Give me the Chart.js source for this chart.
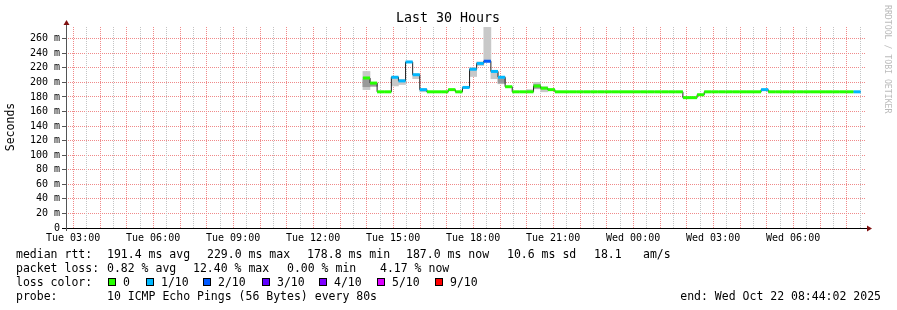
<!DOCTYPE html>
<html>
<head>
<meta charset="utf-8">
<script src="https://cdn.jsdelivr.net/npm/chart.js@4.4.0/dist/chart.umd.min.js"></script>
<style>
  html, body { margin: 0; padding: 0; background: #fff; }
  #wrap { width: 897px; height: 310px; }
</style>
</head>
<body>
<div id="wrap"><canvas id="graph" width="897" height="310"></canvas></div>
<script>
// hours since Tue 00:00
const rangeStart = 2 + 44 / 60;
const rangeEnd = 32 + 44 / 60;
const firstSample = 13 + 52 / 60;
const stepHours = 16 / 60;

// median rtt per 16 min sample, in ms
const median = [
  206, 199, 187, 187, 207, 202, 228, 210.5, 190, 187,
  187, 187, 190, 187, 193, 218, 226, 229, 215, 207,
  194, 187, 187, 187, 195, 192, 190, 187, 187, 187,
  187, 187, 187, 187, 187, 187, 187, 187, 187, 187,
  187, 187, 187, 187, 187, 179, 179, 183, 187, 187,
  187, 187, 187, 187, 187, 187, 190, 187, 187, 187,
  187, 187, 187, 187, 187, 187, 187, 187, 187, 187
];
// index into lossColors
const lossLevel = [
  0, 0, 0, 0, 1, 1, 1, 1, 1, 0,
  0, 0, 0, 0, 1, 1, 1, 2, 1, 1,
  0, 0, 0, 0, 0, 0, 0, 0, 0, 0,
  0, 0, 0, 0, 0, 0, 0, 0, 0, 0,
  0, 0, 0, 0, 0, 0, 0, 0, 0, 0,
  0, 0, 0, 0, 0, 0, 1, 0, 0, 0,
  0, 0, 0, 0, 0, 0, 0, 0, 0, 1
];
// smoke (spread of the pings), null where hidden under the median
const smokeLow = [
  190, 194, null, null, 195, 197, null, 205, 187, null,
  null, null, null, null, null, 208, 223, 228, 205, 198,
  null, null, null, 187, 191, 187
];
const smokeHigh = [
  215, 200, null, null, 208, 204, null, 211, 191, null,
  null, null, null, null, null, 220, 228, 275.5, 215, 208,
  null, null, null, 190, 200, 194
];
const smokeCoreLow = [194, 195, null, null, null, null, null, null, null, null,
  null, null, null, null, null, null, null, null, null, 199,
  null, null, null, null, 192, null];
const smokeCoreHigh = [204, 198, null, null, null, null, null, null, null, null,
  null, null, null, null, null, null, null, null, null, 205,
  null, null, null, null, 197, null];

const lossColors = ['#26ff00', '#00b8ff', '#0059ff', '#5e00ff', '#7e00ff', '#dd00ff', '#ff0000'];
const lossLabels = ['0', '1/10', '2/10', '3/10', '4/10', '5/10', '9/10'];

const yMax = 276;
const xTicks = [];
for (let h = 3; h < rangeEnd; h += 0.5) xTicks.push(h);
const yTicks = [];
for (let v = 0; v <= 270; v += 10) yTicks.push(v);

const mono = '"DejaVu Sans Mono", "Liberation Mono", monospace';
const majorGrid = '#f08a8a';
const minorGrid = '#c4c4c4';

function t0(i) { return firstSample + i * stepHours; }

const blackPoints = median.map((v, i) => ({ x: t0(i), y: v }));
blackPoints.push({ x: t0(median.length), y: median[median.length - 1] });

const colorPoints = [];
median.forEach((v, i) => {
  colorPoints.push({ x: t0(i), y: v }, { x: t0(i + 1), y: v }, { x: t0(i + 1), y: null });
});

function bars(lo, hi) {
  return median.map((_, i) => ({
    x: t0(i) + stepHours / 2,
    y: lo[i] == null || hi[i] == null ? null : [lo[i], hi[i]]
  }));
}

function timeLabel(h) {
  const day = h < 24 ? 'Tue' : 'Wed';
  const hh = String(Math.floor(h % 24)).padStart(2, '0');
  return day + ' ' + hh + ':00';
}

// vertical dotted grid, hourly red and half-hourly grey, one pixel dots
const timeGrid = {
  id: 'timeGrid',
  beforeDatasetsDraw(chart) {
    const ctx = chart.ctx;
    const a = chart.chartArea;
    const xs = chart.scales.x;
    ctx.save();
    xTicks.forEach(v => {
      const px = Math.round(xs.getPixelForValue(v));
      ctx.fillStyle = v % 1 === 0 ? majorGrid : minorGrid;
      for (let y = Math.round(a.top); y < a.bottom; y += 2) ctx.fillRect(px, y, 1, 1);
    });
    ctx.restore();
  }
};

const decor = {
  id: 'decor',
  afterDraw(chart) {
    const ctx = chart.ctx;
    const a = chart.chartArea;
    ctx.save();
    // axes
    ctx.lineWidth = 1;
    ctx.strokeStyle = '#000';
    ctx.beginPath();
    ctx.moveTo(62, a.bottom + 0.5);
    ctx.lineTo(a.right + 2, a.bottom + 0.5);
    ctx.stroke();
    ctx.strokeStyle = '#555';
    ctx.beginPath();
    ctx.moveTo(a.left + 0.5, a.bottom + 3);
    ctx.lineTo(a.left + 0.5, a.top - 4);
    ctx.stroke();
    ctx.fillStyle = '#7f1010';
    ctx.beginPath();
    ctx.moveTo(a.right + 6, a.bottom + 0.5);
    ctx.lineTo(a.right + 1, a.bottom - 2.5);
    ctx.lineTo(a.right + 1, a.bottom + 3.5);
    ctx.fill();
    ctx.beginPath();
    ctx.moveTo(a.left + 0.5, a.top - 7);
    ctx.lineTo(a.left - 2.5, a.top - 2);
    ctx.lineTo(a.left + 3.5, a.top - 2);
    ctx.fill();

    // title and axis label
    ctx.fillStyle = '#000';
    ctx.font = '13.3px ' + mono;
    ctx.textAlign = 'center';
    ctx.textBaseline = 'middle';
    ctx.fillText('Last 30 Hours', 448, 19);
    ctx.font = '11.5px ' + mono;
    ctx.save();
    ctx.translate(11, 127);
    ctx.rotate(-Math.PI / 2);
    ctx.fillText('Seconds', 0, 0);
    ctx.restore();

    // watermark
    ctx.save();
    ctx.fillStyle = '#bbb';
    ctx.font = '8.2px ' + mono;
    ctx.translate(887, 5);
    ctx.rotate(Math.PI / 2);
    ctx.textAlign = 'left';
    ctx.fillText('RRDTOOL / TOBI OETIKER', 0, 0);
    ctx.restore();

    // legend
    ctx.font = '11.5px ' + mono;
    ctx.textAlign = 'left';
    ctx.textBaseline = 'alphabetic';
    const put = (s, x, y) => ctx.fillText(s, x, y);
    put('median rtt:', 16, 258);
    put('191.4 ms avg', 107, 258);
    put('229.0 ms max', 207, 258);
    put('178.8 ms min', 307, 258);
    put('187.0 ms now', 406, 258);
    put('10.6 ms sd', 507, 258);
    put('18.1', 594, 258);
    put('am/s', 643, 258);
    put('packet loss:', 16, 272);
    put('0.82 % avg', 107, 272);
    put('12.40 % max', 193, 272);
    put('0.00 % min', 287, 272);
    put('4.17 % now', 380, 272);
    put('loss color:', 16, 286);
    const sq = [108, 146, 203, 262, 319, 377, 435];
    lossLabels.forEach((l, i) => {
      ctx.fillStyle = lossColors[i];
      ctx.fillRect(sq[i], 278, 8, 8);
      ctx.strokeStyle = '#000';
      ctx.strokeRect(sq[i] + 0.5, 278.5, 7, 7);
      ctx.fillStyle = '#000';
      put(l, sq[i] + 15, 286);
    });
    put('probe:', 16, 300);
    put('10 ICMP Echo Pings (56 Bytes) every 80s', 107, 300);
    ctx.textAlign = 'right';
    put('end: Wed Oct 22 08:44:02 2025', 881, 300);
    ctx.restore();
  }
};

new Chart(document.getElementById('graph'), {
  type: 'line',
  data: {
    datasets: [
      {
        data: colorPoints,
        borderWidth: 3,
        borderCapStyle: 'butt',
        pointRadius: 0,
        spanGaps: false,
        segment: { borderColor: c => lossColors[lossLevel[Math.floor(c.p0DataIndex / 3)]] },
        order: 0
      },
      {
        data: blackPoints,
        borderColor: '#202020',
        borderWidth: 1,
        stepped: true,
        pointRadius: 0,
        order: 1
      },
      {
        type: 'bar',
        data: bars(smokeCoreLow, smokeCoreHigh),
        backgroundColor: '#999',
        borderWidth: 0,
        grouped: false,
        barPercentage: 1,
        categoryPercentage: 1,
        order: 2
      },
      {
        type: 'bar',
        data: bars(smokeLow, smokeHigh),
        backgroundColor: '#c8c8c8',
        borderWidth: 0,
        grouped: false,
        barPercentage: 1,
        categoryPercentage: 1,
        order: 3
      }
    ]
  },
  options: {
    responsive: false,
    animation: false,
    layout: { padding: { left: 0, right: 31, top: 27, bottom: 0 } },
    plugins: { legend: { display: false }, tooltip: { enabled: false } },
    scales: {
      x: {
        type: 'linear',
        min: rangeStart,
        max: rangeEnd,
        offset: false,
        afterFit: s => { s.height = 82; },
        afterBuildTicks: s => { s.ticks = xTicks.map(v => ({ value: v })); },
        border: { display: false },
        grid: { display: false, drawTicks: false, offset: false },
        ticks: {
          autoSkip: false,
          maxRotation: 0,
          padding: 4,
          color: '#000',
          font: { family: mono, size: 10 },
          callback: v => (v % 3 === 0 ? timeLabel(v) : '')
        }
      },
      y: {
        min: 0,
        max: yMax,
        afterFit: s => { s.width = 66; },
        afterBuildTicks: s => { s.ticks = yTicks.map(v => ({ value: v })); },
        border: { display: false, dash: [1, 1] },
        grid: {
          color: c => (c.tick && c.tick.value % 20 === 0) ? majorGrid : minorGrid,
          tickLength: 4,
          tickBorderDash: [],
          tickColor: c => (c.tick && c.tick.value % 20 === 0) ? '#555' : '#aaa'
        },
        ticks: {
          padding: 2,
          color: '#000',
          font: { family: mono, size: 10 },
          callback: v => (v % 20 === 0 ? (v === 0 ? '0' : v + ' m') : '')
        }
      }
    }
  },
  plugins: [timeGrid, decor]
});
</script>
</body>
</html>
